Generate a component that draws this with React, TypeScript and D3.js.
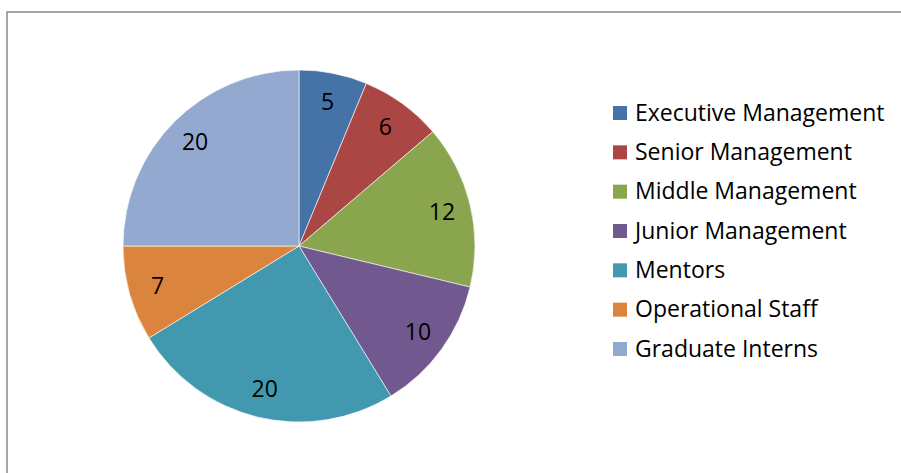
import React from "react";
import * as d3 from "d3";

const categories = [
  "Executive Management",
  "Senior Management",
  "Middle Management",
  "Junior Management",
  "Mentors",
  "Operational Staff",
  "Graduate Interns",
];
const values = [5, 6, 12, 10, 20, 7, 20];
const colors = ["#4572A7", "#AA4643", "#89A54E", "#71588F", "#4198AF", "#DB843D", "#93A9CF"];

const W = 901;
const H = 473;
const cx = 299;
const cy = 246;
const R = 176;
const labelR = 147;
const font = "'Open Sans', Lato, sans-serif";

export default function App() {
  const pie = d3.pie<number>().sort(null).value((d) => d)(values);
  const arc = d3.arc<d3.PieArcDatum<number>>().innerRadius(0).outerRadius(R);
  const labelArc = d3.arc<d3.PieArcDatum<number>>().innerRadius(labelR).outerRadius(labelR);
  const legendY = d3.scaleLinear().domain([0, categories.length - 1]).range([113, 349]);
  return (
    <svg
      width={W}
      height={H}
      style={{ position: "absolute", left: 0, top: 0 }}
      xmlns="http://www.w3.org/2000/svg"
    >
      <rect x={0} y={0} width={W} height={H} fill="#fff" />
      <rect x={7} y={12} width={W + 10} height={H + 10} fill="none" stroke="#888" strokeWidth={1.5} />
      <g transform={`translate(${cx},${cy})`}>
        {pie.map((p, i) => (
          <path key={i} d={arc(p) || ""} fill={colors[i]} stroke="#fff" strokeWidth={0.6} />
        ))}
        {pie.map((p, i) => {
          const [x, y] = labelArc.centroid(p);
          return (
            <text
              key={"l" + i}
              x={x}
              y={y + 8}
              textAnchor="middle"
              fontFamily={font}
              fontSize={23}
              fill="#000"
            >
              {values[i]}
            </text>
          );
        })}
      </g>
      {categories.map((c, i) => (
        <g key={"g" + i} transform={`translate(613,${legendY(i)})`}>
          <rect x={0} y={-7} width={14} height={14} fill={colors[i]} />
          <text x={22} y={7.5} fontFamily={font} fontSize={23} fill="#000">
            {c}
          </text>
        </g>
      ))}
    </svg>
  );
}
